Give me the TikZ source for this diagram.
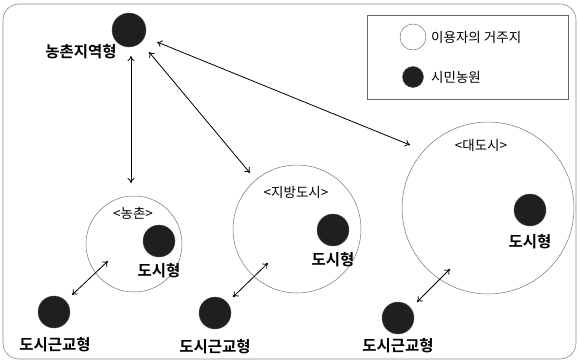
\documentclass[tikz,border=0pt]{standalone}
\usepackage{fontspec}
\newfontfamily\kr{Noto Sans CJK KR}
\newfontfamily\krb{Noto Sans CJK KR Bold}
\usetikzlibrary{arrows.meta}
\begin{document}
\begin{tikzpicture}[x=1pt,y=-1pt,
  farm/.style={circle,fill=black!88,draw=black!70,inner sep=0pt,minimum size=#1},
  farm/.default=32pt,
  home/.style={circle,draw=black!55,line width=0.5pt,inner sep=0pt,minimum size=#1},
  blab/.style={font=\krb\fontsize{15.5}{15.5}\selectfont,inner sep=0pt},
  rlab/.style={font=\kr\fontsize{13.5}{13.5}\selectfont,inner sep=0pt},
  link/.style={{To[length=5pt,width=7pt]}-{To[length=5pt,width=7pt]},line width=0.8pt,black}]
\useasboundingbox (0,0) rectangle (578,362);
\draw[black!45,line width=0.6pt,rounded corners=16pt] (3,4) rectangle (576,359);
% legend
\node[draw=black!60,line width=0.6pt,minimum width=201pt,minimum height=84pt,inner sep=0pt] (legend) at (468,57) {};
\node[home=26pt] (lhome) at (413,37) {};
\node[rlab,anchor=west] (lhomet) at (431,37) {이용자의 거주지};
\node[farm=21pt] (lfarm) at (413,77) {};
\node[rlab,anchor=west] (lfarmt) at (431,77) {시민농원};
% top rural farm
\node[farm=34pt] (top) at (129,30) {};
\node[blab] (topl) at (81,52) {농촌지역형};
% rural circle
\node[home=96pt] (rural) at (134,244) {};
\node[rlab] (rurall) at (133,213) {<농촌>};
\node[farm] (rf) at (159,241) {};
\node[blab] (rfl) at (159,271) {도시형};
\node[farm] (rs) at (54,312) {};
\node[blab] (rsl) at (55,345) {도시근교형};
% regional city
\node[home=128pt] (reg) at (297,229) {};
\node[rlab] (regl) at (296,192) {<지방도시>};
\node[farm] (gf) at (333,230) {};
\node[blab] (gfl) at (333,260) {도시형};
\node[farm] (gs) at (215,313) {};
\node[blab] (gsl) at (215,347) {도시근교형};
% metropolis
\node[home=172pt] (met) at (488,208) {};
\node[rlab] (metl) at (481,145) {<대도시>};
\node[farm] (mf) at (530,210) {};
\node[blab] (mfl) at (530,242) {도시형};
\node[farm] (ms) at (398,318) {};
\node[blab] (msl) at (398,346) {도시근교형};
% arrow endpoints
\coordinate (a1s) at (131,56);
\coordinate (a1e) at (131,183);
\coordinate (a2s) at (149,52);
\coordinate (a2e) at (250,173);
\coordinate (a3s) at (157,42);
\coordinate (a3e) at (410,145);
\coordinate (b1s) at (72,295);
\coordinate (b1e) at (108,261);
\coordinate (b2s) at (233,297);
\coordinate (b2e) at (268,263);
\coordinate (b3s) at (417,302);
\coordinate (b3e) at (450,269);
\draw[link] (a1s) -- (a1e);
\draw[link] (a2s) -- (a2e);
\draw[link] (a3s) -- (a3e);
\draw[link] (b1s) -- (b1e);
\draw[link] (b2s) -- (b2e);
\draw[link] (b3s) -- (b3e);
\end{tikzpicture}
\end{document}
